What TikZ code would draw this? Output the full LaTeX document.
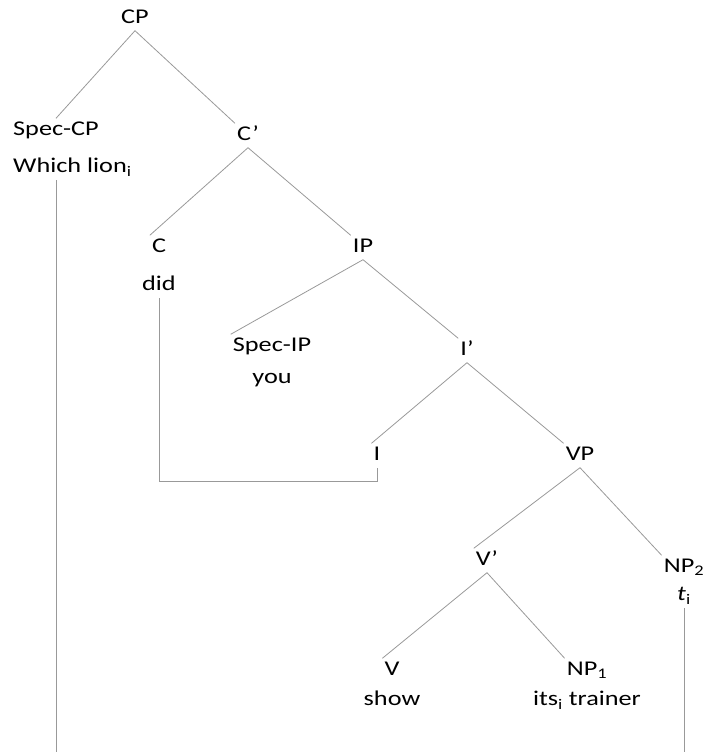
\documentclass[tikz,border=0pt]{standalone}
\usepackage{fontspec}
\setmainfont{Carlito}[FakeStretch=1.25]
\usepackage{tikz}
\usetikzlibrary{positioning}

\begin{document}
\begin{tikzpicture}[x=1pt, y=1pt, parent anchor=south, child anchor=north]
\tikzstyle{every node} = [font=\fontsize{21}{24}\selectfont, inner xsep=2pt, inner ysep=3pt, text height=14pt, text depth=4pt]
\tikzstyle{edge from parent} = [draw, gray!80, line width=0.8pt]
\tikzstyle{link} = [draw, gray!80, line width=0.8pt]
\tikzstyle{rightleg} = [child anchor=north west]
\tikzstyle{level 1} = [sibling distance=192pt, level distance=112pt]
\tikzstyle{level 2} = [sibling distance=204pt, level distance=112pt]
\tikzstyle{level 3} = [sibling distance=195pt, level distance=99pt]
\tikzstyle{level 4} = [sibling distance=203pt, level distance=105pt]
\tikzstyle{level 5} = [sibling distance=197pt, level distance=105pt]
\tikzstyle{level 6} = [sibling distance=195pt, level distance=110pt]

\useasboundingbox (0,0) rectangle (708,-752);
\coordinate (floor) at (0,-752);

\node (cp) at (135,-18.5) {CP}
child[xshift=17pt]{
node (speccp) {Spec-CP}
        }
child[rightleg, xshift=17pt, yshift=-5pt]{
node (cbar) {C’}
        child[xshift=13pt]{
                node (c) {C}
                }
        child[rightleg, xshift=13pt]{
                node (ip) {IP}
                child[xshift=6.5pt]{
                        node (specip) {Spec-IP}
                        }
                child[rightleg, xshift=6.5pt, yshift=-4pt]{
                        node (ibar) {I’}
                        child[xshift=11.5pt]{
                                node (i) {I}
                                }
                        child[rightleg, xshift=11.5pt]{
                                node (vp) {VP}
                                child[xshift=5.5pt]{
                                        node (vbar) {V’}
                                        child[xshift=2.5pt]{
                                                node (v) {V}
                                                }
                                        child[rightleg, xshift=2.5pt]{
                                                node (npone) {NP\textsubscript{1}}
                                                }
                                        }
                                child[rightleg, xshift=5.5pt, yshift=-7pt]{
                                        node (nptwo) {NP\textsubscript{2}}
                                        }
                                }
                        }
                }
        };

% lexical items
\node (whichlion) [below right=13pt and 0pt of speccp.south west] {Which lion\textsubscript{i}};
\node (did) [below=14pt of c] {did};
\node (you) [below=8pt of specip] {you};
\node (ti) [below=4pt of nptwo] {\textit{t}\textsubscript{i}};
\node (show) [below=6pt of v] {show};
\node (trainer) [below=6pt of npone] {its\textsubscript{i} trainer};

% movement lines
\draw[link] (whichlion.south -| speccp.north) -- (speccp.north |- floor);
\draw[link] (did.south) |- ([yshift=-14pt]i.south) -- (i.south);
\draw[link] (ti.south) -- (ti.south |- floor);

\end{tikzpicture}
\end{document}
